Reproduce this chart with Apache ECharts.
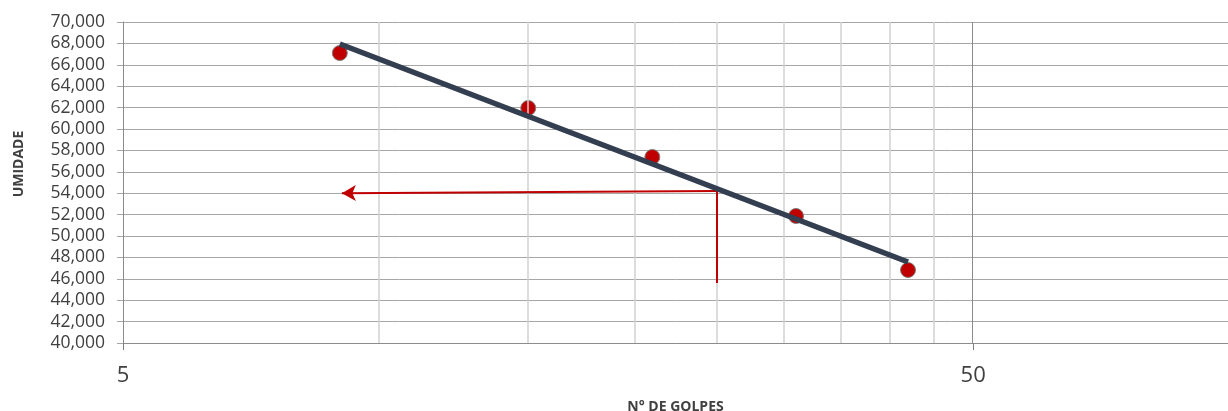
<!DOCTYPE html>
<html>
<head>
<meta charset="utf-8">
<script src="https://cdn.jsdelivr.net/npm/echarts@6/dist/echarts.min.js"></script>
<style>
  html, body { margin: 0; padding: 0; background: #fff; }
  #chart { width: 1228px; height: 411px; }
</style>
</head>
<body>
<div id="chart"></div>
<script>
// pontos do ensaio (n° de golpes x umidade)
const golpes = [9, 15, 21, 31, 42]
const umidade = [67.1, 61.96, 57.38, 51.87, 46.82]

// reta de tendencia (extremos)
const trendX = [9, 42]
const trendY = [67.94, 47.57]

// linha de leitura para 25 golpes
const guideX = [25, 25, 9.05]
const guideY = [45.6, 54.2, 54.0]

// linhas verticais de grade (escala log)
const minorGrid = [10, 15, 20, 25, 30, 35, 40, 45]
const majorGrid = [50]

const fmtY = (v) => v.toFixed(3).replace('.', ',')

const chart = echarts.init(document.getElementById('chart'))

const option = {
  animation: false,
  textStyle: { fontFamily: 'Open Sans' },
  grid: { left: 123, right: 0, top: 22, bottom: 68, outerBoundsMode: 'none', containLabel: false },
  xAxis: {
    type: 'log',
    logBase: 10,
    min: 5,
    max: 100,
    interval: 1,
    name: 'N° DE GOLPES',
    nameLocation: 'middle',
    nameGap: 57,
    nameTextStyle: { fontWeight: 'bold', fontSize: 14, color: '#404040' },
    axisLine: { lineStyle: { color: '#8c8c8c', width: 1 } },
    axisTick: { show: true, length: 7, lineStyle: { color: '#7f7f7f', width: 1 } },
    axisLabel: {
      fontSize: 22,
      color: '#404040',
      margin: 22,
      showMaxLabel: false,
      formatter: (v) => String(Math.round(v))
    },
    splitLine: { show: false }
  },
  yAxis: {
    type: 'value',
    min: 40,
    max: 70,
    interval: 2,
    axisLine: { show: true, lineStyle: { color: '#8c8c8c' } },
    axisTick: { show: true, length: 6, lineStyle: { color: '#a6a6a6' } },
    axisLabel: { fontSize: 17.5, color: '#404040', margin: 18, formatter: fmtY },
    splitLine: { lineStyle: { color: '#a6a6a6', width: 1 } }
  },
  graphic: [
    {
      type: 'text',
      x: 19,
      y: 164,
      rotation: Math.PI / 2,
      style: {
        text: 'UMIDADE',
        font: 'bold 14px "Open Sans"',
        fill: '#404040',
        align: 'center',
        verticalAlign: 'middle'
      }
    }
  ],
  series: [
    {
      // grade vertical
      type: 'line',
      data: [],
      silent: true,
      markLine: {
        silent: true,
        symbol: 'none',
        label: { show: false },
        data: [
          ...minorGrid.map(v => ({ xAxis: v, lineStyle: { color: '#d0d0d0', width: 1.5, type: 'solid' } })),
          ...majorGrid.map(v => ({ xAxis: v, lineStyle: { color: '#8c8c8c', width: 1, type: 'solid' } }))
        ]
      }
    },
    {
      name: 'guia',
      type: 'line',
      data: [],
      z: 3,
      markLine: {
        silent: true,
        symbol: 'none',
        label: { show: false },
        lineStyle: { color: '#c00000', width: 2, type: 'solid', opacity: 1 },
        data: [
          [{ coord: [guideX[0], guideY[0]] }, { coord: [guideX[1], guideY[1]] }],
          [
            { coord: [guideX[1], guideY[1]], symbol: 'none' },
            { coord: [guideX[2], guideY[2]], symbol: 'arrow', symbolSize: [12, 14] }
          ]
        ]
      }
    },
    {
      name: 'ensaio',
      type: 'scatter',
      z: 4,
      symbolSize: 15,
      itemStyle: { color: '#c00000', borderColor: '#7f7f7f', borderWidth: 1, opacity: 1 },
      data: golpes.map((g, i) => [g, umidade[i]])
    },
    {
      name: 'tendencia',
      type: 'line',
      z: 5,
      showSymbol: false,
      lineStyle: { color: '#333f50', width: 5.5 },
      data: trendX.map((g, i) => [g, trendY[i]])
    }
  ]
}

chart.setOption(option)
</script>
</body>
</html>
